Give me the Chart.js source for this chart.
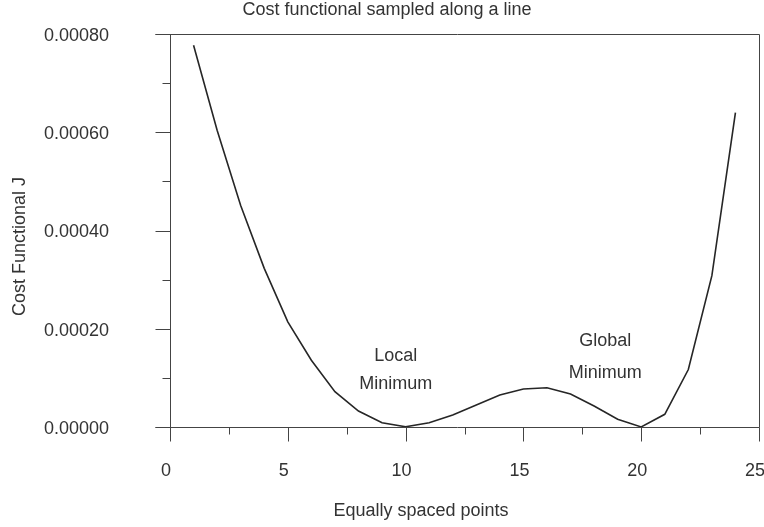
<!DOCTYPE html>
<html>
<head>
<meta charset="utf-8">
<title>Cost functional sampled along a line</title>
<script src="https://cdn.jsdelivr.net/npm/chart.js@4/dist/chart.umd.min.js"></script>
<style>
  html, body { margin: 0; padding: 0; background: #ffffff; }
  #wrap { width: 764px; height: 527px; }
</style>
</head>
<body>
<div id="wrap"><canvas id="c" width="764" height="527"></canvas></div>
<script>
// Sample index along the search line
const points = [1, 2, 3, 4, 5, 6, 7, 8, 9, 10, 11, 12, 13, 14, 15, 16, 17, 18, 19, 20, 21, 22, 23, 24];
// Cost functional J at each sample
const costJ = [
  0.000777, 0.000604, 0.000451, 0.000323, 0.000214, 0.000136, 0.000072, 0.0000325,
  0.0000087, 0.0000005, 0.0000087, 0.0000244, 0.0000447, 0.0000650, 0.0000772, 0.0000799,
  0.0000671, 0.0000427, 0.0000157, 0.0000002, 0.0000258, 0.000117, 0.000308, 0.000640
];
// Axis tick values
const xMajorTicks = [0, 5, 10, 15, 20, 25];
const xMinorTicks = [2.5, 7.5, 12.5, 17.5, 22.5];
const yMajorTicks = [0, 0.0002, 0.0004, 0.0006, 0.0008];
const yMinorTicks = [0.0001, 0.0003, 0.0005, 0.0007];
// Text labels
const chartTitle = 'Cost functional sampled along a line';
const xTitle = 'Equally spaced points';
const yTitle = 'Cost Functional J';
// Annotation lines, anchored in data coordinates [x, J]
const notes = [
  { text: 'Local',   at: [9.58, 0.000134] },
  { text: 'Minimum', at: [9.58, 0.0000772] },
  { text: 'Global',  at: [18.47, 0.0001646] },
  { text: 'Minimum', at: [18.47, 0.0000996] }
];

const FONT = '"Liberation Sans", Arial, Helvetica, sans-serif';
const TEXT = '#333333';
const AXIS = '#444444';

// Frame, tick marks, titles and annotations
const decorations = {
  id: 'decorations',
  afterDatasetsDraw(chart) {
    const { ctx, scales: { x, y } } = chart;
    ctx.save();
    ctx.strokeStyle = AXIS;
    ctx.lineWidth = 1;
    const line = (x1, y1, x2, y2) => {
      ctx.beginPath(); ctx.moveTo(x1, y1); ctx.lineTo(x2, y2); ctx.stroke();
    };
    const x0 = Math.round(x.getPixelForValue(0)) + 0.5;
    const xr = Math.round(x.getPixelForValue(25)) + 0.5;
    const yb = Math.round(y.getPixelForValue(0)) + 0.5;
    const yt = Math.round(y.getPixelForValue(0.0008)) + 0.5;
    // box
    line(x0 - 15, yt, xr, yt);
    line(x0 - 15, yb, xr, yb);
    line(xr, yt, xr, yb);
    line(x0, yt, x0, yb);
    // x ticks
    xMajorTicks.forEach(v => { const p = Math.round(x.getPixelForValue(v)) + 0.5; line(p, yb, p, yb + 14); });
    xMinorTicks.forEach(v => { const p = Math.round(x.getPixelForValue(v)) + 0.5; line(p, yb, p, yb + 7); });
    // y ticks
    yMajorTicks.forEach(v => { const p = Math.round(y.getPixelForValue(v)) + 0.5; line(x0 - 15, p, x0, p); });
    yMinorTicks.forEach(v => { const p = Math.round(y.getPixelForValue(v)) + 0.5; line(x0 - 8, p, x0, p); });

    ctx.fillStyle = TEXT;
    ctx.font = '18px ' + FONT;
    ctx.textAlign = 'center';
    ctx.textBaseline = 'alphabetic';
    ctx.fillText(chartTitle, 387, 15);
    ctx.fillText(xTitle, 421, 516);
    notes.forEach(n => {
      ctx.fillText(n.text, x.getPixelForValue(n.at[0]), y.getPixelForValue(n.at[1]));
    });
    ctx.save();
    ctx.translate(25, 246.5);
    ctx.rotate(-Math.PI / 2);
    ctx.fillText(yTitle, 0, 0);
    ctx.restore();
    ctx.restore();
  }
};

// Fix a scale's size and drop its label overhang so the plot area is stable
const fixBox = (w, h) => s => {
  if (w !== null) s.width = w;
  if (h !== null) s.height = h;
  s.paddingTop = 0; s.paddingBottom = 0; s.paddingLeft = 0; s.paddingRight = 0;
};

new Chart(document.getElementById('c'), {
  type: 'line',
  data: {
    datasets: [{
      data: points.map((p, i) => ({ x: p, y: costJ[i] })),
      borderColor: '#262626',
      borderWidth: 1.6,
      pointRadius: 0,
      tension: 0,
      fill: false
    }]
  },
  options: {
    responsive: false,
    animation: false,
    devicePixelRatio: 1,
    layout: { autoPadding: false, padding: { top: 34, right: 5, left: 0, bottom: 0 } },
    plugins: { legend: { display: false }, title: { display: false }, tooltip: { enabled: false } },
    scales: {
      x: {
        type: 'linear', min: 0, max: 25,
        border: { display: false },
        grid: { display: false, drawTicks: false, tickLength: 0 },
        afterBuildTicks: s => { s.ticks = xMajorTicks.map(v => ({ value: v })); },
        afterFit: fixBox(null, 100),
        ticks: { color: TEXT, font: { family: FONT, size: 18 }, padding: 33, maxRotation: 0,
                 labelOffset: -4, callback: v => String(v) }
      },
      y: {
        type: 'linear', min: 0, max: 0.0008,
        border: { display: false },
        grid: { display: false, drawTicks: false, tickLength: 0 },
        afterBuildTicks: s => { s.ticks = yMajorTicks.map(v => ({ value: v })); },
        afterFit: fixBox(170, null),
        ticks: { color: TEXT, font: { family: FONT, size: 18 }, padding: 61,
                 labelOffset: 2, callback: v => Number(v).toFixed(5) }
      }
    }
  },
  plugins: [decorations]
});
</script>
</body>
</html>
